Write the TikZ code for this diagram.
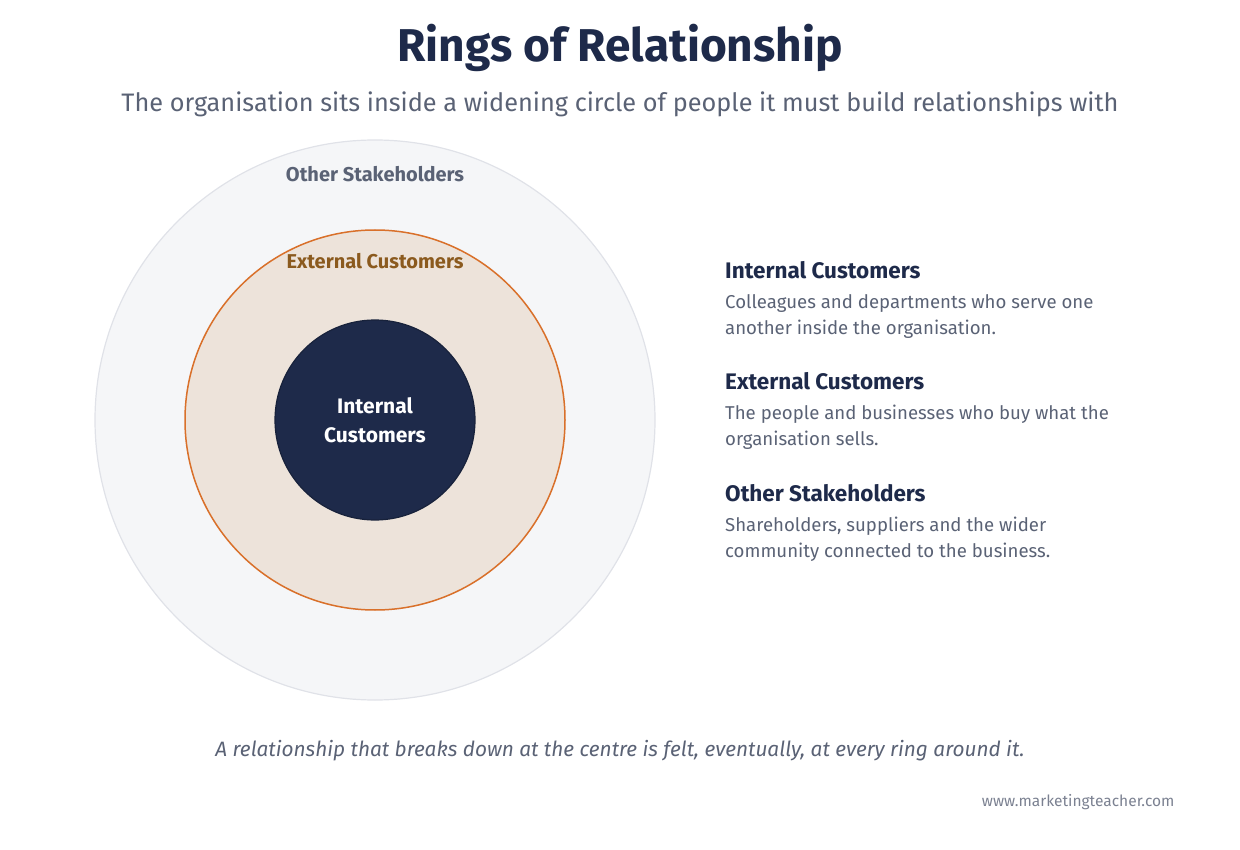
\documentclass[tikz,border=0pt]{standalone}
\usepackage{fontspec}
\setmainfont{Fira Sans}
\usetikzlibrary{positioning}
\definecolor{navy}{HTML}{1E2A4A}
\definecolor{ember}{HTML}{D9702A}
\definecolor{sand}{HTML}{EDE3DA}
\definecolor{mist}{HTML}{F5F6F8}
\definecolor{mistline}{HTML}{E0E2E8}
\definecolor{slate}{HTML}{5A6275}
\definecolor{bark}{HTML}{8B5A1E}
\newcommand{\fsz}[1]{\fontsize{#1}{1.4\dimexpr#1pt\relax}\selectfont}
\tikzset{
  ring label/.style={font=\fsz{20}\bfseries},
  key head/.style={anchor=west,inner sep=0pt,text=navy,font=\fsz{22.5}\bfseries},
  key body/.style={anchor=north west,text=slate,font=\fsz{18.6},align=left,inner sep=0pt}
}
\begin{document}
\begin{tikzpicture}[x=1pt,y=-1pt]
\useasboundingbox (0,0) rectangle (1240,850);
\node (title) at (620,48) {\fsz{46}\bfseries\color{navy}Rings of Relationship};
\node (sub) at (620,104) {\fsz{25.3}\color{slate}The organisation sits inside a widening circle of people it must build relationships with};
% rings
\coordinate (c) at (375,420);
\draw[mistline,fill=mist,line width=1.2pt] (c) circle (280);
\draw[ember,fill=sand,line width=1.5pt] (c) circle (190);
\draw[navy!80!black,fill=navy,line width=1.2pt] (c) circle (100);
\node[ring label,text=slate] (other) at (375,174) {Other Stakeholders};
\node[ring label,text=bark] (ext) at (375,261) {External Customers};
\node[text=white,font=\fsz{21}\bfseries,align=center] (int) at (c) {Internal\\Customers};
% key
\node[key head] (h1) at (725,270) {Internal Customers};
\node[key body] (b1) at (725,294) {Colleagues and departments who serve one\\another inside the organisation.};
\node[key head] (h2) at (725,381) {External Customers};
\node[key body] (b2) at (725,405) {The people and businesses who buy what the\\organisation sells.};
\node[key head] (h3) at (725,493) {Other Stakeholders};
\node[key body] (b3) at (725,517) {Shareholders, suppliers and the wider\\community connected to the business.};
\node (foot) at (620,751) {\fsz{20.8}\itshape\color{slate}A relationship that breaks down at the centre is felt, eventually, at every ring around it.};
\node[anchor=east] (url) at (1178,802) {\fsz{15.5}\color{slate!80}www.marketingteacher.com};
\end{tikzpicture}
\end{document}
